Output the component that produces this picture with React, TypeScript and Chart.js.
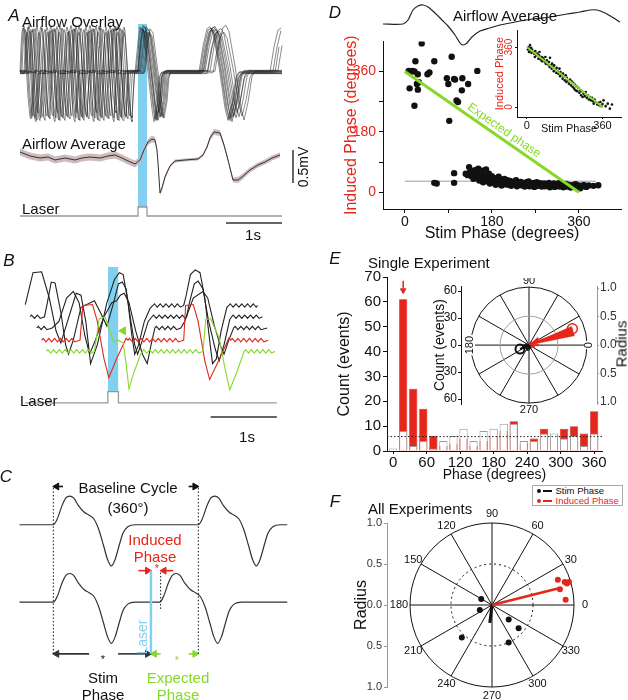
import React, { useEffect, useRef } from "react";
import { Chart, registerables } from "chart.js";

const FONT = "'Liberation Sans', Arial, Helvetica, sans-serif";
const RED = "#e5261b";
const GREEN = "#86d82b";
const BLUE = "#83cff0";
const INK = "#111";

// ================= Panel A (overlay / average / laser) =================
const A_START = 5;
const A_END = 267;
const SNIFF_T = [0, 1, 2, 3, 4, 6, 8, 10, 11, 12, 13.5];
const SNIFF_V = [0, 25, 40, 44, 40, 10, -25, -45, -47, -25, 0];
const RESP1_T = [0, 3, 5, 8, 13, 17, 19, 22, 24, 26];
const RESP1_V = [0, 30, 44, 40, 0, -35, -47, -30, -5, 0];
const RESP2_T = [0, 4, 8, 11, 14, 20, 26, 29, 33, 37, 40];
const RESP2_V = [0, 25, 42, 44, 38, 5, -35, -47, -30, -5, 0];
const A_SNIFF_ONSETS = [
  [5, 24, 44, 63, 83, 102],
  [7, 27, 46, 66, 85, 104],
  [10, 29, 49, 68, 88, 106],
  [12, 32, 51, 71, 90],
  [14, 34, 54, 73, 93],
  [17, 36, 56, 75, 95],
  [19, 39, 58, 78, 97],
  [21, 41, 61, 80, 100],
  [6, 23, 42, 61, 81, 100],
  [9, 30, 50, 69, 88, 106],
  [11, 33, 53, 72, 92],
  [15, 37, 57, 76, 96],
];
const A_AMP = [1, 0.95, 1.04, 0.9, 1, 0.97, 1.03, 0.92, 1, 0.94, 1.04, 0.98];
const A_BASE_OFFSET = [0, 1, -1, 2, -2, 1, 0, -1, 2, -2, 1, 0];
const A_RESP1_ONSET = [121, 123, 120, 125, 122, 127, 124, 128, 126, 129, 123, 130];
const A_RESP2_ONSET = [185, 190, 188, 193, 186, 195, 184, 198, 189, 192, 200, 187];
const A_RESP3_ONSET = [255, null, 260, null, null, 258, null, null, 263, null, null, null];

const A_AVG_T = [5, 15, 25, 33, 40, 50, 60, 67, 75, 85, 93, 100, 107, 113, 120, 125, 129, 133, 137, 140, 142, 143, 145, 147, 150, 155, 160, 170, 183, 188, 192, 195, 199, 205, 209, 213, 218, 223, 227, 235, 243, 250, 257, 265];
const A_AVG_V = [5, 1, -1, 0, -3, -1, -3, -1, 0, -1, 1, 2, -1, -4, -7, -3, 7, 15, 18, 17, 7, -6, -36, -31, -20, -9, -4, -3, -2, 2, 10, 19, 25, 24, 12, -3, -23, -23, -20, -13, -8, -5, -1, 2];
const A_AVG_SEM = [3.5, 3.5, 3.5, 3.5, 3.5, 3.5, 3.5, 3.5, 3.5, 3.5, 3.5, 3.5, 3.5, 3.5, 3.5, 3, 2.5, 3, 3.5, 3, 2, 2, 2.5, 2.5, 2, 1.5, 1.5, 1.5, 1.5, 1.5, 2, 2.5, 3, 3, 2.5, 2, 2.5, 3, 3, 2.5, 2.5, 2.5, 2.5, 2.5];
const A_LASER_T = [5, 123, 123, 132, 132, 267];
const LASER_STATE = [0, 0, 1, 1, 0, 0];
const A_SCALE_1S = [211, 267];

// ================= Panel B =================
const B_WIG_T = [0, 1.5, 3, 4.5, 6];
const B_WIG_V = [0, 1.8, 0, -1.8, 0];
const B_BLACK1_K = [[5, 1], [13, 35], [22, 36], [30, 8], [37, -27], [42, -40], [49, -17], [58, 13], [63, 11], [68, -17], [73, -62], [80, -42], [90, 3], [98, 28], [103, 35], [107, 33], [112, 3], [116, -32], [119, -52], [123, -42], [129, -17], [135, -3], [138, 0], [170, 0], [172, 8], [177, 33], [182, 38], [187, 35], [192, 8], [197, -37], [200, -62], [204, -57], [209, -27], [215, -2], [217, 0], [247, 0]];
const B_BLACK1_W = [[138, 170], [217, 247]];
const B_BLACK2_K = [[10, 0], [25, 0], [28, 15], [32, 37], [36, 36], [42, 5], [47, -30], [50, -40], [55, -25], [63, 10], [77, 17], [83, 5], [90, -10], [97, 15], [102, 35], [106, 37], [110, 30], [115, -5], [119, -30], [122, -40], [127, -25], [133, -5], [137, 0], [173, 0], [176, 15], [181, 35], [185, 38], [190, 30], [196, -5], [203, -35], [207, -47], [212, -30], [218, -3], [220, 0], [252, 0]];
const B_BLACK2_W = [[10, 25], [137, 173], [220, 252]];
const B_BLACK3_K = [[17, 0], [33, 0], [40, 7], [48, 32], [55, 39], [61, 27], [67, -8], [72, -28], [78, -13], [87, 12], [95, 27], [100, 29], [104, 35], [108, 37], [113, 27], [120, -3], [127, -28], [132, -38], [136, -18], [140, 0], [167, 0], [171, 7], [180, 32], [190, 39], [195, 32], [202, 2], [208, -18], [212, -28], [217, -13], [222, 0], [257, 0]];
const B_BLACK3_W = [[17, 33], [140, 167], [222, 257]];
const B_RED_K = [[22, 0], [62, 0], [65, 37], [75, 38], [80, 20], [87, -20], [92, -40], [100, -20], [110, 2], [112, 0], [170, 0], [172, 37], [180, 38], [185, 20], [192, -22], [197, -42], [205, -25], [217, 2], [219, 0], [258, 0]];
const B_RED_W = [[22, 62], [112, 170], [219, 258]];
const B_GREEN_K = [[27, 0], [77, 0], [82, 35], [88, 37], [97, 10], [102, 12], [107, 9], [110, -13], [113, -40], [118, -23], [125, -3], [127, 0], [190, 0], [193, 34], [198, 35], [207, 14], [213, -18], [218, -41], [225, -23], [233, 0], [265, 0]];
const B_GREEN_W = [[27, 77], [127, 190], [233, 265]];
const B_LASER_T = [5, 91, 91, 102, 102, 267];
const B_SCALE_1S = [198, 267];
const B_ARROW = [107, 100];

// ================= Panel C =================
const C_CYCLE_T = [0, 4, 9, 13, 17, 21, 26, 32, 37, 42, 47, 52, 56, 60, 64, 68, 72, 77, 85];
const C_CYCLE_V = [0, 6, 20, 28, 30, 28, 20, 13, 10, 6, -5, -22, -36, -43, -36, -22, -9, -2, 0];
const C_TOP_ONSETS = [50, 200];
const C_BOTTOM_ONSETS = [50, 160];
const C_START = 15;
const C_END = 292;

// ================= Panel D =================
const D_UPPER = [[8, 362], [10, 310], [13, 360], [16, 362], [20, 360], [20, 258], [22, 391], [25, 323], [27, 306], [27, 352], [29, 328], [35, 444], [47, 352], [51, 357], [61, 391], [87, 340], [90, 323], [92, 213], [97, 404], [102, 338], [104, 336], [107, 274], [110, 269], [118, 304], [119, 340], [131, 323], [150, 362]];
const D_LOWER = [[61, 28], [66, 26], [102, 57], [102, 28], [126, 55], [130, 51], [133, 75], [135, 60], [138, 48], [140, 62], [142, 40], [145, 66], [147, 52], [150, 45], [152, 70], [154, 35], [156, 58], [158, 42], [160, 64], [162, 30], [164, 50], [166, 38], [168, 68], [170, 44], [172, 32], [174, 55], [176, 26], [178, 40], [180, 48], [182, 34], [184, 28], [186, 42], [188, 22], [190, 36], [192, 30], [194, 46], [196, 26], [198, 38], [200, 20], [202, 32], [204, 27], [206, 40], [208, 24], [210, 30], [212, 36], [214, 22], [216, 28], [218, 34], [220, 19], [222, 26], [225, 30], [228, 22], [230, 36], [232, 18], [235, 27], [238, 24], [240, 31], [243, 20], [246, 26], [248, 17], [250, 29], [253, 22], [256, 32], [258, 18], [260, 25], [263, 21], [266, 28], [268, 16], [270, 24], [273, 30], [276, 19], [278, 23], [280, 27], [283, 17], [286, 22], [288, 26], [290, 18], [293, 24], [296, 20], [298, 28], [300, 15], [303, 22], [306, 19], [308, 26], [310, 16], [313, 23], [316, 20], [318, 27], [320, 17], [323, 21], [326, 24], [328, 15], [330, 20], [333, 25], [336, 17], [338, 22], [340, 19], [343, 14], [346, 21], [350, 18], [353, 24], [356, 15], [360, 20], [363, 12], [366, 18], [370, 22], [375, 16], [380, 20], [390, 19], [400, 21]];
const D_MEAN_X = [0, 395];
const D_MEAN_Y = 33;
const D_EXPECTED = [[0, 360], [360, 0]];
const D_INSET = [[5, 345], [8, 360], [10, 330], [12, 350], [15, 372], [18, 340], [20, 355], [22, 325], [25, 345], [30, 330], [35, 320], [38, 300], [40, 335], [45, 310], [50, 320], [55, 290], [58, 310], [60, 330], [65, 285], [70, 300], [72, 275], [75, 295], [80, 285], [85, 270], [88, 300], [90, 260], [95, 280], [100, 255], [105, 270], [108, 240], [110, 295], [115, 250], [118, 230], [120, 260], [125, 240], [128, 215], [130, 250], [135, 225], [140, 205], [142, 235], [145, 215], [150, 200], [155, 230], [158, 185], [160, 210], [165, 195], [170, 170], [172, 200], [175, 185], [180, 160], [185, 190], [188, 150], [190, 175], [195, 160], [200, 140], [205, 165], [210, 130], [212, 155], [218, 120], [220, 145], [225, 110], [228, 135], [232, 100], [235, 125], [240, 95], [245, 115], [250, 85], [255, 100], [258, 70], [262, 95], [265, 60], [270, 80], [275, 65], [280, 90], [285, 55], [290, 70], [295, 45], [300, 60], [305, 40], [310, 55], [315, 35], [318, 20], [322, 45], [328, 30], [335, 15], [340, 25], [345, 10], [350, 30], [355, 5], [360, 18], [365, 40], [375, 5], [385, 20], [395, -10], [405, 15]];
const D_AVG_T = [0, 20, 25, 30, 35, 40, 45, 52, 59, 65, 72, 77, 80, 84, 89, 97, 107, 117, 132, 150, 167, 184, 197, 207, 214, 222, 229, 237];
const D_AVG_V = [26, 26, 30, 40, 44, 45, 43, 37, 30, 24, 15, 7, 5, 7, 13, 19, 22, 25, 28, 31, 33, 36, 38, 40, 40, 37, 33, 28];

// ================= Panel E =================
const E_BINS = [0, 18, 36, 54, 72, 90, 108, 126, 144, 162, 180, 198, 216, 234, 252, 270, 288, 306, 324, 342, 360];
const E_STIM = [1, 8, 2, 4, 1, 4, 6, 9, 4, 8, 9, 11, 11, 4, 4, 7, 7, 5, 6, 2, 7];
const E_INDUCED = [0, 61, 25, 17, 6, 2, 3, 5, 2, 4, 6, 8, 12, 3, 5, 9, 5, 9, 10, 7, 16];
const E_MEAN_COUNT = 5.8;
const E_X_TICKS = [0, 60, 120, 180, 240, 300, 360];
const E_Y_TICKS = [0, 10, 20, 30, 40, 50, 60, 70];
const E_RED_PETAL_ANGLE = [18, 36, 0, 342, 54, 324];
const E_RED_PETAL_R = [0.8, 0.2, 0.16, 0.1, 0.08, 0.06];
const E_BLACK_PETAL_ANGLE = [162, 180, 198, 216, 234, 252, 270, 288, 306];
const E_BLACK_PETAL_R = [0.06, 0.09, 0.12, 0.1, 0.08, 0.1, 0.09, 0.07, 0.05];
const E_MEAN_ANGLE = [204, 21]; // stim, induced
const E_MEAN_R = [0.17, 0.8];

// ================= Panel F =================
const F_INDUCED_ANGLE = [21, 13, 17.5, 16, 16.6, 4];
const F_INDUCED_R = [0.86, 0.85, 0.93, 0.95, 0.98, 0.9];
const F_STIM_ANGLE = [151, 202, 227, 319, 319, 294];
const F_STIM_R = [0.15, 0.16, 0.54, 0.27, 0.43, 0.5];
const F_MEAN_ANGLE = [263, 14]; // stim, induced
const F_MEAN_R = [0.22, 0.84];

// ================= helpers =================
type Pt = { x: number; y: number };

const polarGrid = {
  id: "polarGrid",
  beforeDatasetsDraw(chart: any, _a: any, o: any) {
    if (!o || !o.enabled) return;
    const xs = chart.scales.x, ys = chart.scales[o.yScale];
    const cx = xs.getPixelForValue(0), cy = ys.getPixelForValue(0);
    const R = xs.getPixelForValue(1) - cx;
    const ctx = chart.ctx;
    ctx.save();
    ctx.strokeStyle = INK;
    ctx.lineWidth = 1;
    ctx.beginPath();
    for (const a of o.spokes) {
      const r = (a * Math.PI) / 180, dx = R * Math.cos(r), dy = R * Math.sin(r);
      ctx.moveTo(cx - dx, cy + dy);
      ctx.lineTo(cx + dx, cy - dy);
    }
    ctx.stroke();
    ctx.beginPath();
    ctx.arc(cx, cy, R, 0, Math.PI * 2);
    ctx.stroke();
    ctx.beginPath();
    ctx.setLineDash(o.innerDash || []);
    ctx.strokeStyle = o.innerColor;
    ctx.arc(cx, cy, R * o.inner, 0, Math.PI * 2);
    ctx.stroke();
    ctx.setLineDash([]);
    ctx.font = o.font;
    ctx.textAlign = "center";
    ctx.textBaseline = "middle";
    for (const L of o.labels) {
      const r = (L.a * Math.PI) / 180, d = R + L.off;
      ctx.save();
      ctx.translate(cx + d * Math.cos(r), cy - d * Math.sin(r));
      if (L.rot) ctx.rotate((L.rot * Math.PI) / 180);
      if (L.bg) {
        const w = ctx.measureText(L.text).width;
        ctx.fillStyle = "#fff";
        ctx.fillRect(-w / 2 - 1, -5, w + 2, 10);
      }
      ctx.fillStyle = INK;
      ctx.fillText(L.text, 0, 0);
      ctx.restore();
    }
    ctx.restore();
  },
};

const dataText = {
  id: "dataText",
  afterDatasetsDraw(chart: any, _a: any, o: any) {
    if (!o || !o.items) return;
    const ctx = chart.ctx;
    for (const it of o.items) {
      const xs = chart.scales.x, ys = chart.scales.y;
      const px = (it.x === "left" ? chart.chartArea.left : xs.getPixelForValue(it.x)) + (it.dx || 0);
      const py = ys.getPixelForValue(it.y) + (it.dy || 0);
      let rot = ((it.rot || 0) * Math.PI) / 180;
      if (it.along) {
        const [a, b] = it.along;
        rot = Math.atan2(ys.getPixelForValue(b[1]) - ys.getPixelForValue(a[1]), xs.getPixelForValue(b[0]) - xs.getPixelForValue(a[0]));
      }
      ctx.save();
      ctx.translate(px, py);
      ctx.rotate(rot);
      ctx.font = it.font;
      ctx.fillStyle = it.color;
      ctx.textAlign = "center";
      ctx.textBaseline = "middle";
      ctx.fillText(it.text, 0, 0);
      ctx.restore();
    }
  },
};

Chart.register(...registerables, polarGrid, dataText);
Chart.defaults.font.family = FONT;
Chart.defaults.color = INK;

function lineDs(data: Pt[], color: string, width = 1, extra: any = {}) {
  return { type: "line", data, borderColor: color, borderWidth: width, pointRadius: 0, fill: false, tension: 0, ...extra };
}
function headDs(x: number, y: number, rot: number, color: string, r = 3.5, extra: any = {}) {
  return { type: "scatter", data: [{ x, y }], pointStyle: "triangle", rotation: rot, pointRadius: r, backgroundColor: color, borderColor: color, borderWidth: 1, ...extra };
}
function polar(angleDeg: number, r: number): Pt {
  const a = (angleDeg * Math.PI) / 180;
  return { x: r * Math.cos(a), y: r * Math.sin(a) };
}
function petal(a: number, r: number, w: number): Pt[] {
  const pts: Pt[] = [{ x: 0, y: 0 }];
  for (let k = 0; k <= 4; k++) pts.push(polar(a - w / 2 + (w * k) / 4, r));
  pts.push({ x: 0, y: 0 });
  return pts;
}
function opts(scales: any, padding: any = 0, plugins: any = {}) {
  return {
    responsive: false,
    maintainAspectRatio: false,
    animation: false,
    events: [],
    layout: { padding },
    plugins: { legend: { display: false }, tooltip: { enabled: false }, ...plugins },
    scales,
  };
}
const hidden = (min: number, max: number) => ({ type: "linear", display: false, min, max });
function axis(o: any) {
  return {
    type: "linear",
    position: o.position,
    offset: false,
    min: o.min,
    max: o.max,
    afterBuildTicks: (s: any) => {
      s.ticks = o.ticks.map((v: number) => ({ value: v }));
    },
    afterFit: (s: any) => {
      if (o.isX) s.height = o.fit;
      else s.width = o.fit;
    },
    ticks: {
      display: o.showLabels !== false,
      autoSkip: false,
      maxRotation: 0,
      minRotation: 0,
      padding: o.labelPad ?? 2,
      color: o.color || INK,
      font: { size: o.size },
      callback: o.labels || ((v: number) => String(v)),
    },
    grid: { display: true, offset: false, drawOnChartArea: false, drawTicks: true, tickLength: o.tickLen ?? 4, color: o.borderColor || INK, lineWidth: 1 },
    border: { display: true, color: o.borderColor || INK, width: 1 },
    title: o.title
      ? { display: true, text: o.title, color: o.titleColor || INK, font: { size: o.titleSize || 16 }, padding: o.titlePad }
      : { display: false },
  };
}

function eventsTrace(events: { t: number; T: number[]; V: number[] }[], start: number, end: number): Pt[] {
  const pts: Pt[] = [{ x: start, y: 0 }];
  events.forEach((e, k) => {
    const next = k + 1 < events.length ? events[k + 1].t : end;
    e.T.forEach((dt, j) => {
      const t = e.t + dt;
      if (t <= next && t <= end) pts.push({ x: t, y: e.V[j] });
    });
  });
  const last = pts[pts.length - 1];
  if (last.x < end && last.y === 0) pts.push({ x: end, y: 0 });
  return pts;
}
function overlayTrace(i: number): Pt[] {
  const ev = A_SNIFF_ONSETS[i].map((t) => ({ t, T: SNIFF_T, V: SNIFF_V }));
  ev.push({ t: A_RESP1_ONSET[i], T: RESP1_T, V: RESP1_V });
  ev.push({ t: A_RESP2_ONSET[i], T: RESP2_T, V: RESP2_V });
  const r3 = A_RESP3_ONSET[i];
  if (r3 !== null) ev.push({ t: r3 as number, T: RESP2_T, V: RESP2_V });
  return eventsTrace(ev, A_START, A_END).map((p) => ({ x: p.x, y: p.y * A_AMP[i] }));
}
function withWiggles(keys: number[][], ranges: number[][]): Pt[] {
  const pts: Pt[] = keys.map(([t, v]) => ({ x: t, y: v }));
  const P = B_WIG_T[B_WIG_T.length - 1];
  for (const [t0, t1] of ranges) {
    for (let s = t0; s + P <= t1 + 0.01; s += P) {
      B_WIG_T.forEach((dt, j) => {
        if (dt > 0 && dt < P) pts.push({ x: s + dt, y: B_WIG_V[j] });
      });
    }
  }
  pts.sort((a, b) => a.x - b.x);
  return pts;
}
const shift = (pts: Pt[], base: number) => pts.map((p) => ({ x: p.x, y: p.y + base }));

// ================= chart configs =================
function makeA() {
  const OV = 163, AVG = 78, LB = 19, LH = 9;
  const ds: any[] = [];
  ds.push(lineDs([{ x: A_LASER_T[1], y: 211 }, { x: A_LASER_T[3], y: 211 }], BLUE, 0, { backgroundColor: BLUE, fill: { value: LB + LH }, order: 100 }));
  for (let i = 0; i < A_SNIFF_ONSETS.length; i++) {
    ds.push(lineDs(shift(overlayTrace(i), OV + A_BASE_OFFSET[i] * 0.8), "rgba(30,30,30,0.8)", 0.65, { order: 10 }));
  }
  ds.push(lineDs(A_AVG_T.map((t, i) => ({ x: t, y: AVG + A_AVG_V[i] + A_AVG_SEM[i] })), "#c9b6b6", 0, { fill: "+1", backgroundColor: "#cdbbbb", order: 9 }));
  ds.push(lineDs(A_AVG_T.map((t, i) => ({ x: t, y: AVG + A_AVG_V[i] - A_AVG_SEM[i] })), "#c9b6b6", 0, { order: 9 }));
  ds.push(lineDs(A_AVG_T.map((t, i) => ({ x: t, y: AVG + A_AVG_V[i] })), "#333", 1, { order: 8 }));
  ds.push(lineDs(A_LASER_T.map((t, i) => ({ x: t, y: LB + LASER_STATE[i] * LH })), "#999", 1.3));
  ds.push(lineDs(A_SCALE_1S.map((t) => ({ x: t, y: 12 })), "#333", 1.5));
  ds.push(lineDs([{ x: 278, y: 52 }, { x: 278, y: 85 }], "#333", 1.5));
  return { type: "scatter", data: { datasets: ds }, options: opts({ x: hidden(0, 290), y: hidden(0, 215) }) };
}

function makeB() {
  const ds: any[] = [];
  ds.push(lineDs([{ x: B_LASER_T[1], y: 168 }, { x: B_LASER_T[3], y: 168 }], BLUE, 0, { backgroundColor: BLUE, fill: { value: 35 }, order: 100 }));
  ds.push(lineDs(shift(withWiggles(B_GREEN_K, B_GREEN_W), 78), GREEN, 1.1));
  ds.push(lineDs(shift(withWiggles(B_RED_K, B_RED_W), 90), RED, 1.1));
  ds.push(lineDs(shift(withWiggles(B_BLACK3_K, B_BLACK3_W), 103), "#222", 1.1));
  ds.push(lineDs(shift(withWiggles(B_BLACK2_K, B_BLACK2_W), 115), "#222", 1.1));
  ds.push(lineDs(shift(withWiggles(B_BLACK1_K, B_BLACK1_W), 127), "#222", 1.1));
  ds.push(lineDs(B_LASER_T.map((t, i) => ({ x: t, y: 23 + LASER_STATE[i] * 12 })), "#999", 1.3));
  ds.push(lineDs(B_SCALE_1S.map((t) => ({ x: t, y: 8 })), "#333", 1.5));
  ds.push(headDs(B_ARROW[0], B_ARROW[1], -90, GREEN, 4.5));
  return { type: "scatter", data: { datasets: ds }, options: opts({ x: hidden(0, 275), y: hidden(0, 175) }) };
}

function makeC() {
  const cyc = (on: number[]) => eventsTrace(on.map((t) => ({ t, T: C_CYCLE_T, V: C_CYCLE_V })), C_START, C_END);
  const ds: any[] = [];
  const dot = { borderDash: [1.5, 2] };
  ds.push(lineDs([{ x: 50, y: 43 }, { x: 50, y: 218 }], INK, 1, dot));
  ds.push(lineDs([{ x: 200, y: 43 }, { x: 200, y: 218 }], INK, 1, dot));
  ds.push(lineDs([{ x: 161, y: 90 }, { x: 161, y: 128 }], INK, 1, dot));
  ds.push(lineDs([{ x: 151, y: 43 }, { x: 151, y: 130 }], BLUE, 2.5));
  ds.push(lineDs(shift(cyc(C_TOP_ONSETS), 178), "#333", 1.2, { cubicInterpolationMode: "monotone" }));
  ds.push(lineDs(shift(cyc(C_BOTTOM_ONSETS), 97), "#333", 1.2, { cubicInterpolationMode: "monotone" }));
  const arrow = (x0: number, x1: number, y: number, color: string) => {
    const dir = x1 > x0 ? 1 : -1;
    ds.push(lineDs([{ x: x0, y }, { x: x1 - dir * 4, y }], color, 1.6));
    ds.push(headDs(x1 - dir * 3.5, y, dir > 0 ? 90 : -90, color, 4));
  };
  arrow(60, 50, 218, INK);
  arrow(190, 200, 218, INK);
  arrow(138, 151, 130, RED);
  arrow(174, 161, 130, RED);
  arrow(87, 50, 43, "#333");
  arrow(117, 151, 43, "#333");
  arrow(161, 151, 43, GREEN);
  arrow(190, 200, 43, GREEN);
  return { type: "scatter", data: { datasets: ds }, options: opts({ x: hidden(0, 300), y: hidden(0, 230) }) };
}

function makeDTop() {
  const ds = [lineDs(D_AVG_T.map((t, i) => ({ x: t, y: D_AVG_V[i] })), "#222", 1.2, { tension: 0.3 })];
  return { type: "scatter", data: { datasets: ds }, options: opts({ x: hidden(0, 240), y: hidden(0, 50) }) };
}

function makeD() {
  const ds: any[] = [];
  ds.push(lineDs(D_MEAN_X.map((x) => ({ x, y: D_MEAN_Y })), "#bdbdbd", 1.5, { order: 3 }));
  ds.push({ type: "scatter", data: [...D_UPPER, ...D_LOWER].map(([x, y]) => ({ x, y })), pointRadius: 3.2, backgroundColor: INK, borderWidth: 0, order: 2 });
  ds.push(lineDs(D_EXPECTED.map(([x, y]) => ({ x, y })), GREEN, 3, { order: 1 }));
  const scales = {
    x: axis({ isX: true, min: -45, max: 447, ticks: [0, 90, 180, 270, 360], labels: (v: number) => (v % 180 === 0 ? String(v) : ""), size: 14, fit: 41, labelPad: 1, title: "Stim Phase (degrees)", titleSize: 16, titlePad: { top: 0, bottom: 7 } }),
    y: axis({ min: -50, max: 450, ticks: [0, 90, 180, 270, 360], labels: (v: number) => (v % 180 === 0 ? String(v) : ""), size: 14, color: RED, fit: 53, labelPad: 3, title: "Induced Phase (degrees)", titleColor: RED, titleSize: 16, titlePad: { top: 12, bottom: 0 } }),
  };
  return {
    type: "scatter",
    data: { datasets: ds },
    options: opts(scales, { top: 7, right: 4, left: 0, bottom: 0 }, {
      dataText: { items: [{ x: 205, y: 184, text: "Expected phase", color: GREEN, font: `12px ${FONT}`, along: D_EXPECTED }] },
    }),
  };
}

function makeDInset() {
  const ds: any[] = [];
  ds.push({ type: "scatter", data: D_INSET.map(([x, y]) => ({ x, y })), pointRadius: 1.3, backgroundColor: INK, borderWidth: 0, order: 2 });
  ds.push(lineDs(D_EXPECTED.map(([x, y]) => ({ x, y })), GREEN, 2, { order: 1 }));
  const scales = {
    x: axis({ isX: true, min: -47, max: 448, ticks: [0, 360], size: 11, fit: 23, tickLen: 2, labelPad: 0, title: "Stim Phase", titleSize: 11, titlePad: { top: 0, bottom: 4 } }),
    y: axis({ min: -60, max: 462, ticks: [0, 360], size: 10, fit: 29, tickLen: 2, showLabels: false, title: "Induced Phase", titleColor: RED, titleSize: 11, titlePad: { top: 5, bottom: 0 } }),
  };
  return {
    type: "scatter",
    data: { datasets: ds },
    options: opts(scales, { top: 5, right: 2, left: 0, bottom: 0 }, {
      dataText: {
        items: [
          { x: "left", dx: -8, y: 360, text: "360", color: RED, font: `10px ${FONT}`, rot: -90 },
          { x: "left", dx: -8, y: 0, text: "0", color: RED, font: `10px ${FONT}`, rot: -90 },
        ],
      },
    }),
  };
}

function makeE() {
  const ds: any[] = [];
  ds.push({ type: "bar", data: E_BINS.map((b, i) => ({ x: b, y: E_STIM[i] })), backgroundColor: "#fff", borderColor: "#9a9a9a", borderWidth: 1, grouped: false, barPercentage: 0.82, categoryPercentage: 1, order: 2 });
  ds.push({ type: "bar", data: E_BINS.map((b, i) => ({ x: b, y: E_INDUCED[i] })), backgroundColor: RED, borderColor: "#b71a10", borderWidth: 0.6, grouped: false, barPercentage: 0.82, categoryPercentage: 1, order: 3 });
  ds.push(lineDs([{ x: -11, y: E_MEAN_COUNT }, { x: 374, y: E_MEAN_COUNT }], "#222", 1, { borderDash: [1.5, 2], order: 1 }));
  ds.push(lineDs([{ x: E_BINS[1], y: 68.5 }, { x: E_BINS[1], y: 65.5 }], RED, 1.5, { order: 0 }));
  ds.push(headDs(E_BINS[1], 64.6, 180, RED, 3.2, { order: 0 }));
  const scales = {
    x: axis({ isX: true, min: -11, max: 374, ticks: E_X_TICKS, size: 15, fit: 34, tickLen: 3, labelPad: 0, title: "Phase (degrees)", titleSize: 14, titlePad: { top: 0, bottom: 1 } }),
    y: axis({ min: 0, max: 70, ticks: E_Y_TICKS, size: 15, fit: 57, tickLen: 4, labelPad: 2, title: "Count (events)", titleSize: 16, titlePad: { top: 5, bottom: 0 } }),
  };
  return { type: "bar", data: { datasets: ds }, options: opts(scales, { top: 12, right: 8, left: 0, bottom: 0 }) };
}

function makeEPolar() {
  const ds: any[] = [];
  E_BLACK_PETAL_ANGLE.forEach((a, i) => ds.push(lineDs(petal(a, E_BLACK_PETAL_R[i], 16), INK, 0.5, { fill: "shape", backgroundColor: INK, yAxisID: "yr" })));
  E_RED_PETAL_ANGLE.forEach((a, i) => ds.push(lineDs(petal(a, E_RED_PETAL_R[i], 12), RED, 0.5, { fill: "shape", backgroundColor: RED, yAxisID: "yr" })));
  ds.push(lineDs([{ x: 0, y: 0 }, polar(E_MEAN_ANGLE[1], E_MEAN_R[1])], RED, 2.5, { yAxisID: "yr" }));
  ds.push(lineDs([{ x: 0, y: 0 }, polar(E_MEAN_ANGLE[0], E_MEAN_R[0])], INK, 2, { yAxisID: "yr" }));
  ds.push({ type: "scatter", data: [polar(E_MEAN_ANGLE[1], E_MEAN_R[1])], pointRadius: 5, backgroundColor: "#fff", borderColor: RED, borderWidth: 1.5, yAxisID: "yr" });
  ds.push({ type: "scatter", data: [polar(E_MEAN_ANGLE[0], E_MEAN_R[0])], pointRadius: 4.5, backgroundColor: "rgba(255,255,255,0)", borderColor: INK, borderWidth: 2, yAxisID: "yr" });
  const scales = {
    x: hidden(-1.172, 1.172),
    yc: axis({ position: "left", min: -65.5, max: 65.5, ticks: [-60, -30, 0, 30, 60], labels: (v: number) => String(Math.abs(v)), size: 12, fit: 31, tickLen: 3, labelPad: 1, title: "Count (events)", titleSize: 14, titlePad: { top: 2, bottom: 0 } }),
    yr: axis({ position: "right", min: -1.034, max: 1.034, ticks: [-1, -0.5, 0, 0.5, 1], labels: (v: number) => Math.abs(v).toFixed(1), size: 12, color: "#333", borderColor: "#9a9a9a", fit: 30, tickLen: 2, labelPad: 1 }),
  };
  return {
    type: "scatter",
    data: { datasets: ds },
    options: opts(scales, { top: 6, right: 0, left: 0, bottom: 14 }, {
      polarGrid: {
        enabled: true,
        yScale: "yr",
        spokes: [0, 30, 60, 90, 120, 150],
        inner: 0.5,
        innerColor: "#a0a0a0",
        innerDash: [],
        font: `11px ${FONT}`,
        labels: [
          { a: 90, text: "90", off: 6 },
          { a: 270, text: "270", off: 7 },
          { a: 180, text: "180", off: 1, rot: -90, bg: true },
          { a: 0, text: "0", off: 2, rot: -90, bg: true },
        ],
      },
    }),
  };
}

function makeF() {
  const ds: any[] = [];
  ds.push(lineDs([{ x: 0, y: 0 }, polar(F_MEAN_ANGLE[1], F_MEAN_R[1])], RED, 2.5));
  ds.push(lineDs([{ x: 0, y: 0 }, polar(F_MEAN_ANGLE[0], F_MEAN_R[0])], INK, 3));
  ds.push({ type: "scatter", data: F_INDUCED_ANGLE.map((a, i) => polar(a, F_INDUCED_R[i])), pointRadius: 3, backgroundColor: RED, borderWidth: 0 });
  ds.push({ type: "scatter", data: F_STIM_ANGLE.map((a, i) => polar(a, F_STIM_R[i])), pointRadius: 3, backgroundColor: INK, borderWidth: 0 });
  const scales = {
    x: hidden(-1.2805, 1.317),
    y: axis({ position: "left", min: -1, max: 1, ticks: [-1, -0.5, 0, 0.5, 1], labels: (v: number) => Math.abs(v).toFixed(1), size: 11, color: "#333", borderColor: "#9a9a9a", fit: 47, tickLen: 3, labelPad: 2, title: "Radius", titleSize: 16, titlePad: { top: 12, bottom: 0 } }),
  };
  const angles = [0, 30, 60, 90, 120, 150, 180, 210, 240, 270, 300, 330];
  return {
    type: "scatter",
    data: { datasets: ds },
    options: opts(scales, { top: 18, right: 25, left: 0, bottom: 13 }, {
      polarGrid: {
        enabled: true,
        yScale: "y",
        spokes: [0, 30, 60, 90, 120, 150],
        inner: 0.5,
        innerColor: INK,
        innerDash: [2, 3],
        font: `11px ${FONT}`,
        labels: angles.map((a) => ({ a, text: String(a), off: a % 180 === 0 ? 11 : 9 })),
      },
    }),
  };
}

// ================= components =================
function ChartCanvas({ left, top, width, height, make }: any) {
  const ref = useRef<HTMLCanvasElement | null>(null);
  useEffect(() => {
    const chart = new Chart(ref.current as HTMLCanvasElement, make());
    return () => chart.destroy();
  }, []);
  return <canvas ref={ref} width={width} height={height} style={{ position: "absolute", left, top, width, height }} />;
}

function Txt({ x, y, children, size = 15, color = INK, left = false, rot = 0, italic = false }: any) {
  return (
    <div
      style={{
        position: "absolute",
        left: x,
        top: y,
        transform: `translate(${left ? "0" : "-50%"}, -50%) rotate(${rot}deg)`,
        fontSize: size,
        color,
        fontFamily: FONT,
        whiteSpace: "nowrap",
        lineHeight: 1,
        fontStyle: italic ? "italic" : "normal",
      }}
    >
      {children}
    </div>
  );
}

function LegendRow({ color, label }: any) {
  return (
    <div style={{ display: "flex", alignItems: "center", height: 10, color }}>
      <span style={{ width: 3.5, height: 3.5, borderRadius: 2, background: color, marginRight: 2 }} />
      <span style={{ width: 9, height: 2, background: color, marginRight: 4 }} />
      <span>{label}</span>
    </div>
  );
}

export default function App() {
  return (
    <div style={{ position: "absolute", left: 0, top: 0, width: 628, height: 700, background: "#fff", overflow: "hidden", fontFamily: FONT }}>
      {/* Panel A */}
      <ChartCanvas left={15} top={20} width={290} height={215} make={makeA} />
      <Txt x={14} y={15} size={17} italic>A</Txt>
      <Txt x={22} y={21} left>Airflow Overlay</Txt>
      <Txt x={22} y={143} left>Airflow Average</Txt>
      <Txt x={22} y={208} left>Laser</Txt>
      <Txt x={253} y={234}>1s</Txt>
      <Txt x={303} y={167} size={14} rot={-90}>0.5mV</Txt>

      {/* Panel B */}
      <ChartCanvas left={15} top={255} width={275} height={175} make={makeB} />
      <Txt x={9} y={260} size={17} italic>B</Txt>
      <Txt x={20} y={400} left>Laser</Txt>
      <Txt x={247} y={436}>1s</Txt>

      {/* Panel C */}
      <ChartCanvas left={0} top={470} width={300} height={230} make={makeC} />
      <Txt x={6} y={476} size={17} italic>C</Txt>
      <Txt x={128} y={487}>Baseline Cycle</Txt>
      <Txt x={128} y={507}>(360°)</Txt>
      <Txt x={155} y={539} color={RED}>Induced</Txt>
      <Txt x={155} y={556} color={RED}>Phase</Txt>
      <Txt x={157} y={568} size={11} color={RED}>*</Txt>
      <Txt x={103} y={659} size={11}>*</Txt>
      <Txt x={177} y={660} size={11} color={GREEN}>*</Txt>
      <Txt x={103} y={677}>Stim</Txt>
      <Txt x={103} y={694}>Phase</Txt>
      <Txt x={178} y={677} color={GREEN}>Expected</Txt>
      <Txt x={178} y={694} color={GREEN}>Phase</Txt>
      <Txt x={142} y={637} size={14} color={BLUE} rot={-90}>Laser</Txt>

      {/* Panel D */}
      <ChartCanvas left={330} top={30} width={295} height={220} make={makeD} />
      <ChartCanvas left={383} top={0} width={240} height={50} make={makeDTop} />
      <ChartCanvas left={488} top={25} width={137} height={115} make={makeDInset} />
      <Txt x={335} y={12} size={17} italic>D</Txt>
      <Txt x={505} y={15}>Airflow Average</Txt>

      {/* Panel E */}
      <ChartCanvas left={330} top={265} width={280} height={220} make={makeE} />
      <ChartCanvas left={430} top={278} width={197} height={140} make={makeEPolar} />
      <Txt x={335} y={258} size={17} italic>E</Txt>
      <Txt x={368} y={262} left>Single Experiment</Txt>
      <Txt x={621} y={344} rot={-90}>Radius</Txt>

      {/* Panel F */}
      <ChartCanvas left={340} top={505} width={285} height={195} make={makeF} />
      <Txt x={335} y={501} size={17} italic>F</Txt>
      <Txt x={368} y={508} left>All Experiments</Txt>
      <div style={{ position: "absolute", left: 532, top: 485, width: 91, height: 21, border: "1px solid #aaa", boxSizing: "border-box", padding: "0 0 0 4px", fontSize: 9.5, lineHeight: "10px", background: "#fff" }}>
        <LegendRow color={INK} label="Stim Phase" />
        <LegendRow color={RED} label="Induced Phase" />
      </div>
    </div>
  );
}
